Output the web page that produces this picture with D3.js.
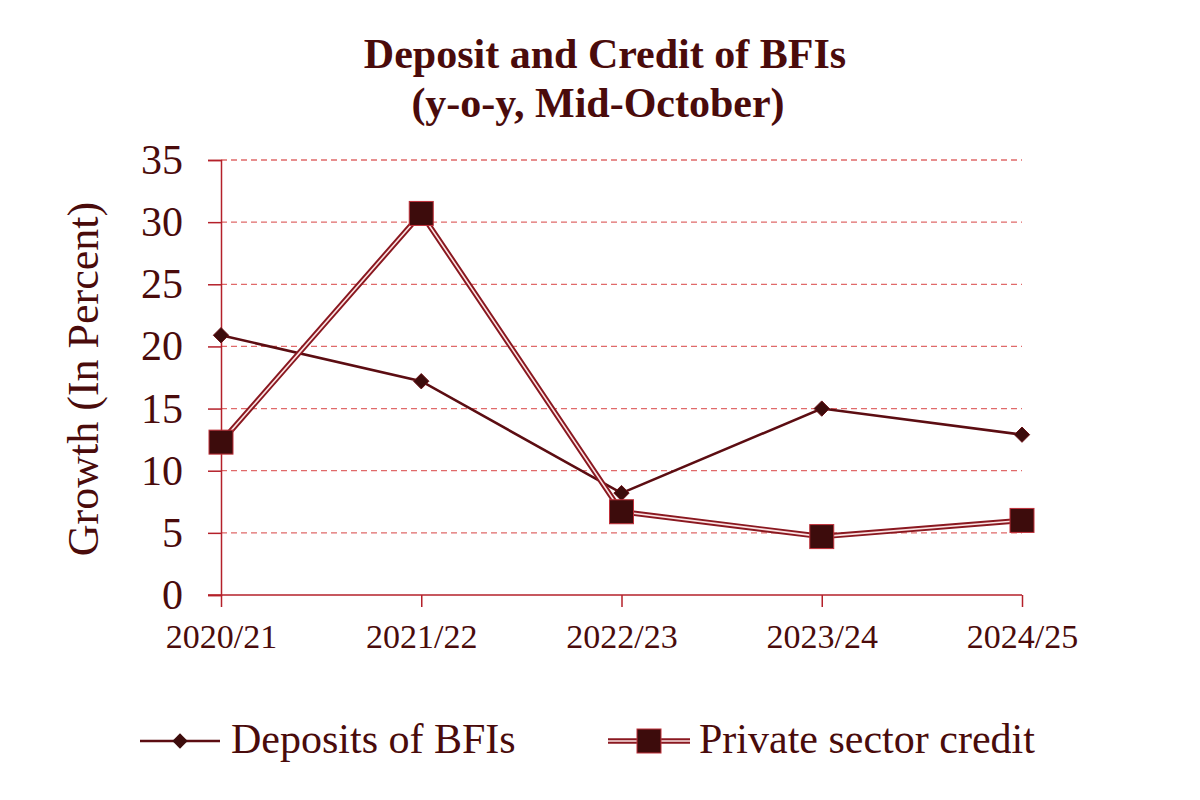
<!DOCTYPE html>
<html><head><meta charset="utf-8">
<script src="https://cdn.jsdelivr.net/npm/d3@7"></script>
<style>body{margin:0;background:#fff}svg{display:block}</style>
</head><body>
<script>
const categories = ["2020/21","2021/22","2022/23","2023/24","2024/25"];
const deposits = [20.9, 17.2, 8.2, 15.0, 12.9];
const credit = [12.3, 30.7, 6.7, 4.7, 6.0];
const yTicks = [0,5,10,15,20,25,30,35];
const seriesNames = ["Deposits of BFIs","Private sector credit"];

const W=1200,H=800;
const m={left:221,right:178,top:160,bottom:205};
const textCol="#4a0b0b", axisCol="#b4202a", gridCol="#e06a6a", markCol="#3d0c0c", lineCol="#5c0d12";
const font="'Liberation Serif','Times New Roman',serif";

const svg=d3.select("body").append("svg").attr("width",W).attr("height",H);
const x=d3.scalePoint().domain(categories).range([m.left,W-m.right]).padding(0);
const y=d3.scaleLinear().domain([0,35]).range([H-m.bottom,m.top]);

// title
svg.append("text").attr("x",605).attr("y",68).attr("text-anchor","middle")
  .attr("font-family",font).attr("font-weight","bold").attr("font-size",42).attr("fill",textCol)
  .text("Deposit and Credit of BFIs");
svg.append("text").attr("x",598).attr("y",117).attr("text-anchor","middle")
  .attr("font-family",font).attr("font-weight","bold").attr("font-size",42).attr("fill",textCol)
  .text("(y-o-y, Mid-October)");

// grid
svg.append("g").selectAll("line").data(yTicks.filter(d=>d>0)).join("line")
  .attr("x1",m.left).attr("x2",W-m.right).attr("y1",d=>y(d)).attr("y2",d=>y(d))
  .attr("stroke",gridCol).attr("stroke-width",1.3).attr("stroke-dasharray","6,4");

// y axis
const ya=svg.append("g").attr("transform",`translate(${m.left},0)`)
  .call(d3.axisLeft(y).tickValues(yTicks).tickSize(13).tickPadding(25));
ya.select(".domain").attr("stroke",axisCol).attr("stroke-width",1.5);
ya.selectAll(".tick line").attr("stroke",axisCol).attr("stroke-width",1.5);
ya.selectAll(".tick text").attr("font-family",font).attr("font-size",42).attr("fill",textCol);

// x axis
const xa=svg.append("g").attr("transform",`translate(0,${y(0)})`)
  .call(d3.axisBottom(x).tickSize(12).tickPadding(17));
xa.select(".domain").attr("stroke",axisCol).attr("stroke-width",1.5).attr("d",`M${m.left-13},0H${W-m.right}`);
xa.selectAll(".tick line").attr("stroke",axisCol).attr("stroke-width",1.5);
xa.selectAll(".tick text").attr("font-family",font).attr("font-size",34).attr("fill",textCol);

// y title
svg.append("text").attr("transform","translate(98,379) rotate(-90)").attr("text-anchor","middle")
  .attr("font-family",font).attr("font-size",44).attr("fill",textCol).text("Growth (In Percent)");

const line=d3.line().x((d,i)=>x(categories[i])).y(d=>y(d));

// deposits
svg.append("path").datum(deposits).attr("d",line).attr("fill","none")
  .attr("stroke",lineCol).attr("stroke-width",2.6);
const diamond=d3.symbol().type(d3.symbolDiamond2).size(150);
svg.append("g").selectAll("path").data(deposits).join("path")
  .attr("transform",(d,i)=>`translate(${x(categories[i])},${y(d)})`)
  .attr("d",diamond).attr("fill",markCol).attr("stroke","#6a1015").attr("stroke-width",1);

// credit: double line
svg.append("path").datum(credit).attr("d",line).attr("fill","none")
  .attr("stroke","#8a1820").attr("stroke-width",5.5);
svg.append("path").datum(credit).attr("d",line).attr("fill","none")
  .attr("stroke","#fbe3e3").attr("stroke-width",1.6);
svg.append("g").selectAll("rect").data(credit).join("rect")
  .attr("x",(d,i)=>x(categories[i])-12).attr("y",d=>y(d)-12)
  .attr("width",24).attr("height",24).attr("fill",markCol).attr("stroke","#c0303a").attr("stroke-width",1);

// legend
const ly=741;
const lg=svg.append("g");
lg.append("line").attr("x1",140).attr("x2",220).attr("y1",ly).attr("y2",ly).attr("stroke",lineCol).attr("stroke-width",2.6);
lg.append("path").attr("transform",`translate(180,${ly})`).attr("d",diamond).attr("fill",markCol);
lg.append("text").attr("x",231).attr("y",753).attr("font-family",font).attr("font-size",42).attr("fill",textCol).text(seriesNames[0]);
lg.append("line").attr("x1",608).attr("x2",690).attr("y1",ly).attr("y2",ly).attr("stroke","#8a1820").attr("stroke-width",5.5);
lg.append("line").attr("x1",608).attr("x2",690).attr("y1",ly).attr("y2",ly).attr("stroke","#fbe3e3").attr("stroke-width",1.6);
lg.append("rect").attr("x",649-12).attr("y",ly-12).attr("width",24).attr("height",24).attr("fill",markCol).attr("stroke","#c0303a");
lg.append("text").attr("x",699).attr("y",753).attr("font-family",font).attr("font-size",42).attr("fill",textCol).text(seriesNames[1]);
</script>
</body></html>
